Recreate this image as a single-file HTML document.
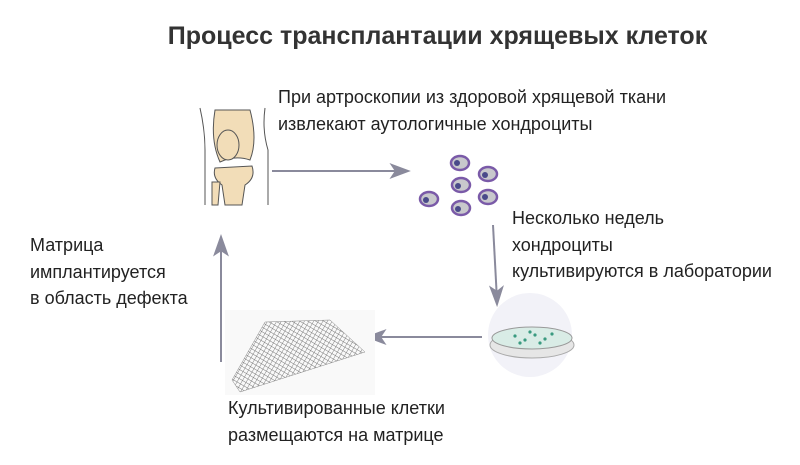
<!DOCTYPE html>
<html><head><meta charset="utf-8"><style>
html,body{margin:0;padding:0;background:#fff;}
body{width:800px;height:465px;position:relative;overflow:hidden;font-family:"Liberation Sans",sans-serif;color:#222;}
.t{position:absolute;font-size:18px;line-height:26.5px;white-space:nowrap;}
</style></head><body>
<div style="position:absolute;left:0;width:875px;top:22px;text-align:center;font-weight:bold;font-size:25px;color:#333;">Процесс трансплантации хрящевых клеток</div>
<div class="t" style="left:278px;top:84px;">При артроскопии из здоровой хрящевой ткани<br>извлекают аутологичные хондроциты</div>
<div class="t" style="left:512px;top:205px;">Несколько недель<br>хондроциты<br>культивируются в лаборатории</div>
<div class="t" style="left:30px;top:232px;">Матрица<br>имплантируется<br>в область дефекта</div>
<div class="t" style="left:228px;top:395px;">Культивированные клетки<br>размещаются на матрице</div>
<svg width="800" height="465" style="position:absolute;left:0;top:0">
<defs>
<pattern id="g" width="4" height="4" patternUnits="userSpaceOnUse" patternTransform="rotate(30)"><path d="M0 0H4M0 0V4" stroke="#777" stroke-width="0.9" fill="none"/></pattern>
</defs>
<g fill="none" stroke="#8a8a9c" stroke-width="2">
<line x1="272" y1="171" x2="404" y2="171"/><path d="M392 165 L408 171 L392 177 L396 171Z" fill="#8a8a9c"/>
<line x1="493" y1="225" x2="497" y2="300"/><path d="M491 288 L497 304 L502 288 L497 292Z" fill="#8a8a9c"/>
<line x1="482" y1="337" x2="372" y2="337"/><path d="M384 331 L368 337 L384 343 L380 337Z" fill="#8a8a9c"/>
<line x1="221" y1="362" x2="221" y2="240"/><path d="M215 254 L221 237 L227 254 L221 250Z" fill="#8a8a9c"/>
</g>
<g stroke="#555" stroke-width="1" fill="#f2ddb8">
<path d="M200 108 Q205 130 205 150 L205 205 M265 108 Q262 130 268 150 L268 205" fill="none"/>
<path d="M215 110 L250 110 Q258 140 250 160 Q235 155 220 162 Q210 140 215 110Z"/>
<ellipse cx="228" cy="145" rx="11" ry="15"/>
<path d="M215 168 L252 166 Q256 178 245 185 L242 205 L225 205 L222 185 Q212 178 215 168Z"/>
<path d="M212 182 L220 182 L218 205 L212 205Z"/>
</g>
<g fill="#c8c8cc" stroke="#7a5aa8" stroke-width="2.5">
<ellipse cx="460" cy="163" rx="9" ry="7"/><ellipse cx="488" cy="174" rx="9" ry="7"/><ellipse cx="461" cy="185" rx="9" ry="7"/><ellipse cx="429" cy="199" rx="9" ry="7"/><ellipse cx="488" cy="197" rx="9" ry="7"/><ellipse cx="461" cy="208" rx="9" ry="7"/>
</g>
<g fill="#4a4a8a"><circle cx="457" cy="163" r="3"/><circle cx="485" cy="175" r="3"/><circle cx="458" cy="186" r="3"/><circle cx="426" cy="200" r="3"/><circle cx="485" cy="197" r="3"/><circle cx="458" cy="209" r="3"/></g>
<circle cx="530" cy="335" r="42" fill="#f2f2f8"/>
<ellipse cx="532" cy="345" rx="42" ry="13" fill="#e6e6e6" stroke="#aaa"/>
<ellipse cx="532" cy="338" rx="40" ry="11" fill="#d9ece6" stroke="#999"/>
<g fill="#3a9a80"><circle cx="515" cy="336" r="1.6"/><circle cx="525" cy="340" r="1.6"/><circle cx="535" cy="335" r="1.6"/><circle cx="545" cy="339" r="1.6"/><circle cx="552" cy="334" r="1.6"/><circle cx="520" cy="343" r="1.6"/><circle cx="540" cy="343" r="1.6"/><circle cx="530" cy="332" r="1.6"/></g>
<rect x="225" y="310" width="150" height="85" fill="#f9f9f9"/>
<path d="M265 322 L330 320 L365 352 L240 392 L232 380Z" fill="url(#g)" stroke="#888" stroke-width="0.5"/>
</svg>
</body></html>
